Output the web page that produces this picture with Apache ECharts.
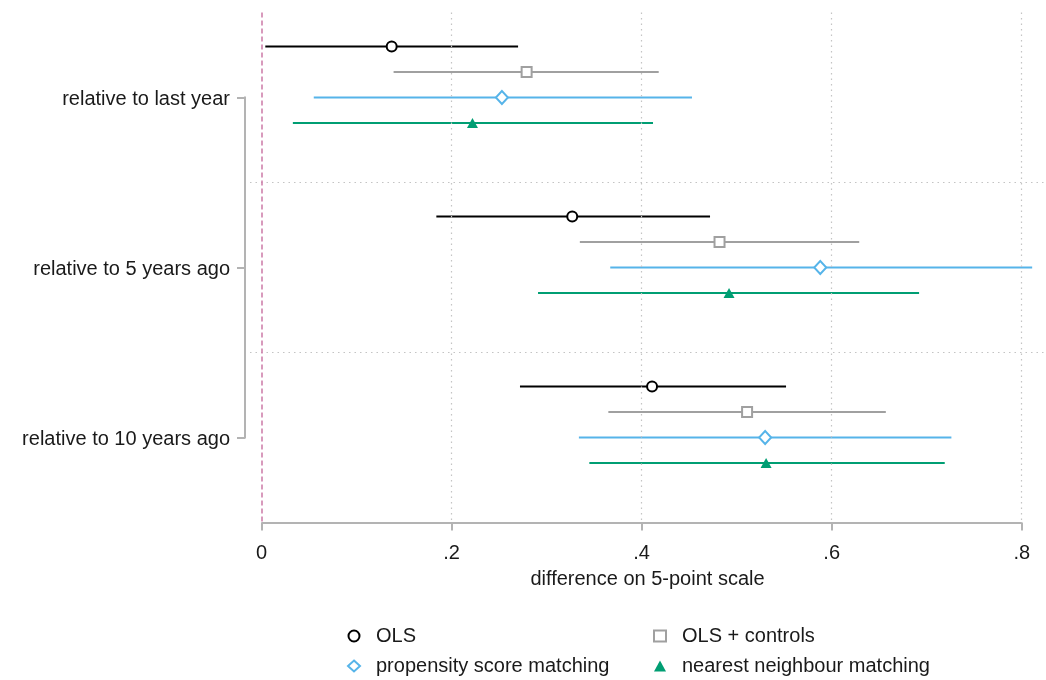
<!DOCTYPE html>
<html>
<head>
<meta charset="utf-8">
<title>Estimated differences by comparison period</title>
<script src="https://cdn.jsdelivr.net/npm/echarts@6/dist/echarts.min.js"></script>
<style>
  html, body { margin: 0; padding: 0; background: #ffffff; }
  #chart { width: 1046px; height: 680px; }
</style>
</head>
<body>
<div id="chart"></div>
<script>
// Comparison periods (rows of the plot, top to bottom)
const groups = ['relative to last year', 'relative to 5 years ago', 'relative to 10 years ago'];

// Estimators (legend order)
const methods = ['OLS', 'OLS + controls', 'propensity score matching', 'nearest neighbour matching'];

// Point estimates and confidence bounds, one entry per comparison period
const olsEst  = [0.137, 0.327, 0.411];
const olsLo   = [0.004, 0.184, 0.272];
const olsHi   = [0.270, 0.472, 0.552];

const ctrlEst = [0.279, 0.482, 0.511];
const ctrlLo  = [0.139, 0.335, 0.365];
const ctrlHi  = [0.418, 0.629, 0.657];

const psmEst  = [0.253, 0.588, 0.530];
const psmLo   = [0.055, 0.367, 0.334];
const psmHi   = [0.453, 0.811, 0.726];

const nnEst   = [0.222, 0.492, 0.531];
const nnLo    = [0.033, 0.291, 0.345];
const nnHi    = [0.412, 0.692, 0.719];

// x-axis ticks and their labels
const xTicks = [0, 0.2, 0.4, 0.6, 0.8];
const xTickLabels = ['0', '.2', '.4', '.6', '.8'];

// ---- styling -------------------------------------------------------------
const FONT = '"Liberation Sans", Arial, Helvetica, sans-serif';
const TEXT = '#1a1a1a';
const AXIS_GREY = '#b3b3b3';
const GRID_GREY = '#c4c4c4';

const estimates = [
  { est: olsEst,  lo: olsLo,  hi: olsHi  },
  { est: ctrlEst, lo: ctrlLo, hi: ctrlHi },
  { est: psmEst,  lo: psmLo,  hi: psmHi  },
  { est: nnEst,   lo: nnLo,   hi: nnHi   }
];

const looks = [
  { color: '#000000', symbol: 'circle',   size: 10,       fill: '#ffffff' },
  { color: '#a0a0a0', symbol: 'rect',     size: 10,       fill: '#ffffff' },
  { color: '#56B4E9', symbol: 'diamond',  size: [12, 13], fill: '#ffffff' },
  { color: '#009E73', symbol: 'triangle', size: [11, 10], fill: '#009E73' }
];

// x range of the plot region (a little room on both sides of 0 … .8)
const X_MIN = -0.0121;
const X_MAX = 0.8245;

// vertical position of estimator m inside comparison period g
function rowPos(g, m) { return g + 0.2 + 0.15 * m; }

const series = [];

// markers
methods.forEach(function (name, m) {
  const lk = looks[m];
  series.push({
    name: name,
    type: 'scatter',
    z: 5,
    symbol: lk.symbol,
    symbolSize: lk.size,
    itemStyle: {
      color: lk.fill,
      borderColor: lk.color,
      borderWidth: m === 3 ? 0 : 2,
      opacity: 1
    },
    emphasis: { disabled: true },
    data: groups.map(function (g, i) { return [estimates[m].est[i], rowPos(i, m)]; })
  });
});

// confidence interval bars
methods.forEach(function (name, m) {
  const lk = looks[m];
  series.push({
    type: 'custom',
    z: 3,
    clip: false,
    silent: true,
    encode: { x: [0, 1], y: 2 },
    data: groups.map(function (g, i) {
      return [estimates[m].lo[i], estimates[m].hi[i], rowPos(i, m)];
    }),
    renderItem: function (params, api) {
      const y = api.value(2);
      const a = api.coord([api.value(0), y]);
      const b = api.coord([api.value(1), y]);
      return {
        type: 'line',
        shape: { x1: a[0], y1: a[1], x2: b[0], y2: b[1] },
        style: { stroke: lk.color, lineWidth: 2 }
      };
    }
  });
});

// reference lines: zero line, dotted grid, period separators, x baseline
const refLines = [];
xTicks.forEach(function (v) {
  if (v === 0) return;
  refLines.push({ xAxis: v, lineStyle: { color: GRID_GREY, type: [1.5, 4], width: 1.2 } });
});
for (let g = 1; g < groups.length; g++) {
  refLines.push({ yAxis: g, lineStyle: { color: GRID_GREY, type: [1.5, 4], width: 1.2 } });
}
refLines.push({ xAxis: 0, lineStyle: { color: '#CC79A7', type: [5, 3], width: 1.5 } });
refLines.push([
  { coord: [xTicks[0], groups.length], lineStyle: { color: AXIS_GREY, type: 'solid', width: 2 } },
  { coord: [xTicks[xTicks.length - 1], groups.length] }
]);

series.push({
  type: 'line',
  z: 1,
  silent: true,
  data: [],
  markLine: {
    silent: true,
    symbol: 'none',
    label: { show: false },
    animation: false,
    emphasis: { disabled: true },
    data: refLines
  }
});

// bracket joining the period labels on the y axis
series.push({
  type: 'custom',
  z: 2,
  clip: false,
  silent: true,
  data: [[X_MIN, 0]],
  renderItem: function (params, api) {
    const top = api.coord([X_MIN, 0.5]);
    const bot = api.coord([X_MIN, groups.length - 0.5]);
    const x = top[0] - 5;
    return {
      type: 'line',
      shape: { x1: x, y1: top[1] - 1, x2: x, y2: bot[1] + 1 },
      style: { stroke: AXIS_GREY, lineWidth: 2 }
    };
  }
});

const legendText = {
  fontSize: 20, lineHeight: 20, color: TEXT, fontFamily: FONT, padding: [0, 0, 0, 11]
};

const option = {
  animation: false,
  backgroundColor: '#ffffff',
  textStyle: { fontFamily: FONT },
  grid: { left: 250, right: 1, top: 12.5, bottom: 157.5, containLabel: false },
  xAxis: {
    type: 'value',
    min: X_MIN,
    max: X_MAX,
    position: 'bottom',
    name: 'difference on 5-point scale',
    nameLocation: 'middle',
    nameGap: 47,
    nameTextStyle: { fontSize: 20, color: TEXT, fontFamily: FONT },
    axisLine: { show: false, onZero: false },
    splitLine: { show: false },
    axisTick: {
      show: true,
      customValues: xTicks,
      length: 8,
      lineStyle: { color: AXIS_GREY, width: 2 }
    },
    axisLabel: {
      show: true,
      customValues: xTicks,
      margin: 21,
      fontSize: 20,
      color: TEXT,
      fontFamily: FONT,
      formatter: function (v) {
        const i = xTicks.findIndex(function (t) { return Math.abs(t - v) < 1e-9; });
        return i >= 0 ? xTickLabels[i] : '';
      }
    }
  },
  yAxis: {
    type: 'value',
    inverse: true,
    min: 0,
    max: groups.length,
    position: 'left',
    offset: 5,
    axisLine: { show: false, onZero: false },
    splitLine: { show: false },
    axisTick: {
      show: true,
      customValues: groups.map(function (g, i) { return i + 0.5; }),
      length: 8,
      lineStyle: { color: AXIS_GREY, width: 2 }
    },
    axisLabel: {
      show: true,
      customValues: groups.map(function (g, i) { return i + 0.5; }),
      margin: 15,
      color: TEXT,
      fontFamily: FONT,
      formatter: function (v) { return '{t|' + (groups[Math.floor(v)] || '') + '}'; },
      rich: {
        t: { fontSize: 20, color: TEXT, fontFamily: FONT, padding: [4, 0, 0, 0] }
      }
    }
  },
  legend: [
    {
      data: [methods[0], methods[2]],
      orient: 'vertical',
      left: 342,
      top: 621,
      height: 56,
      itemWidth: 12,
      itemHeight: 11,
      itemGap: 10,
      selectedMode: false,
      textStyle: legendText
    },
    {
      data: [methods[1], methods[3]],
      orient: 'vertical',
      left: 648,
      top: 621,
      height: 56,
      itemWidth: 12,
      itemHeight: 11,
      itemGap: 10,
      selectedMode: false,
      textStyle: legendText
    }
  ],
  series: series
};

const chart = echarts.init(document.getElementById('chart'), null, { renderer: 'canvas' });
chart.setOption(option);
</script>
</body>
</html>
